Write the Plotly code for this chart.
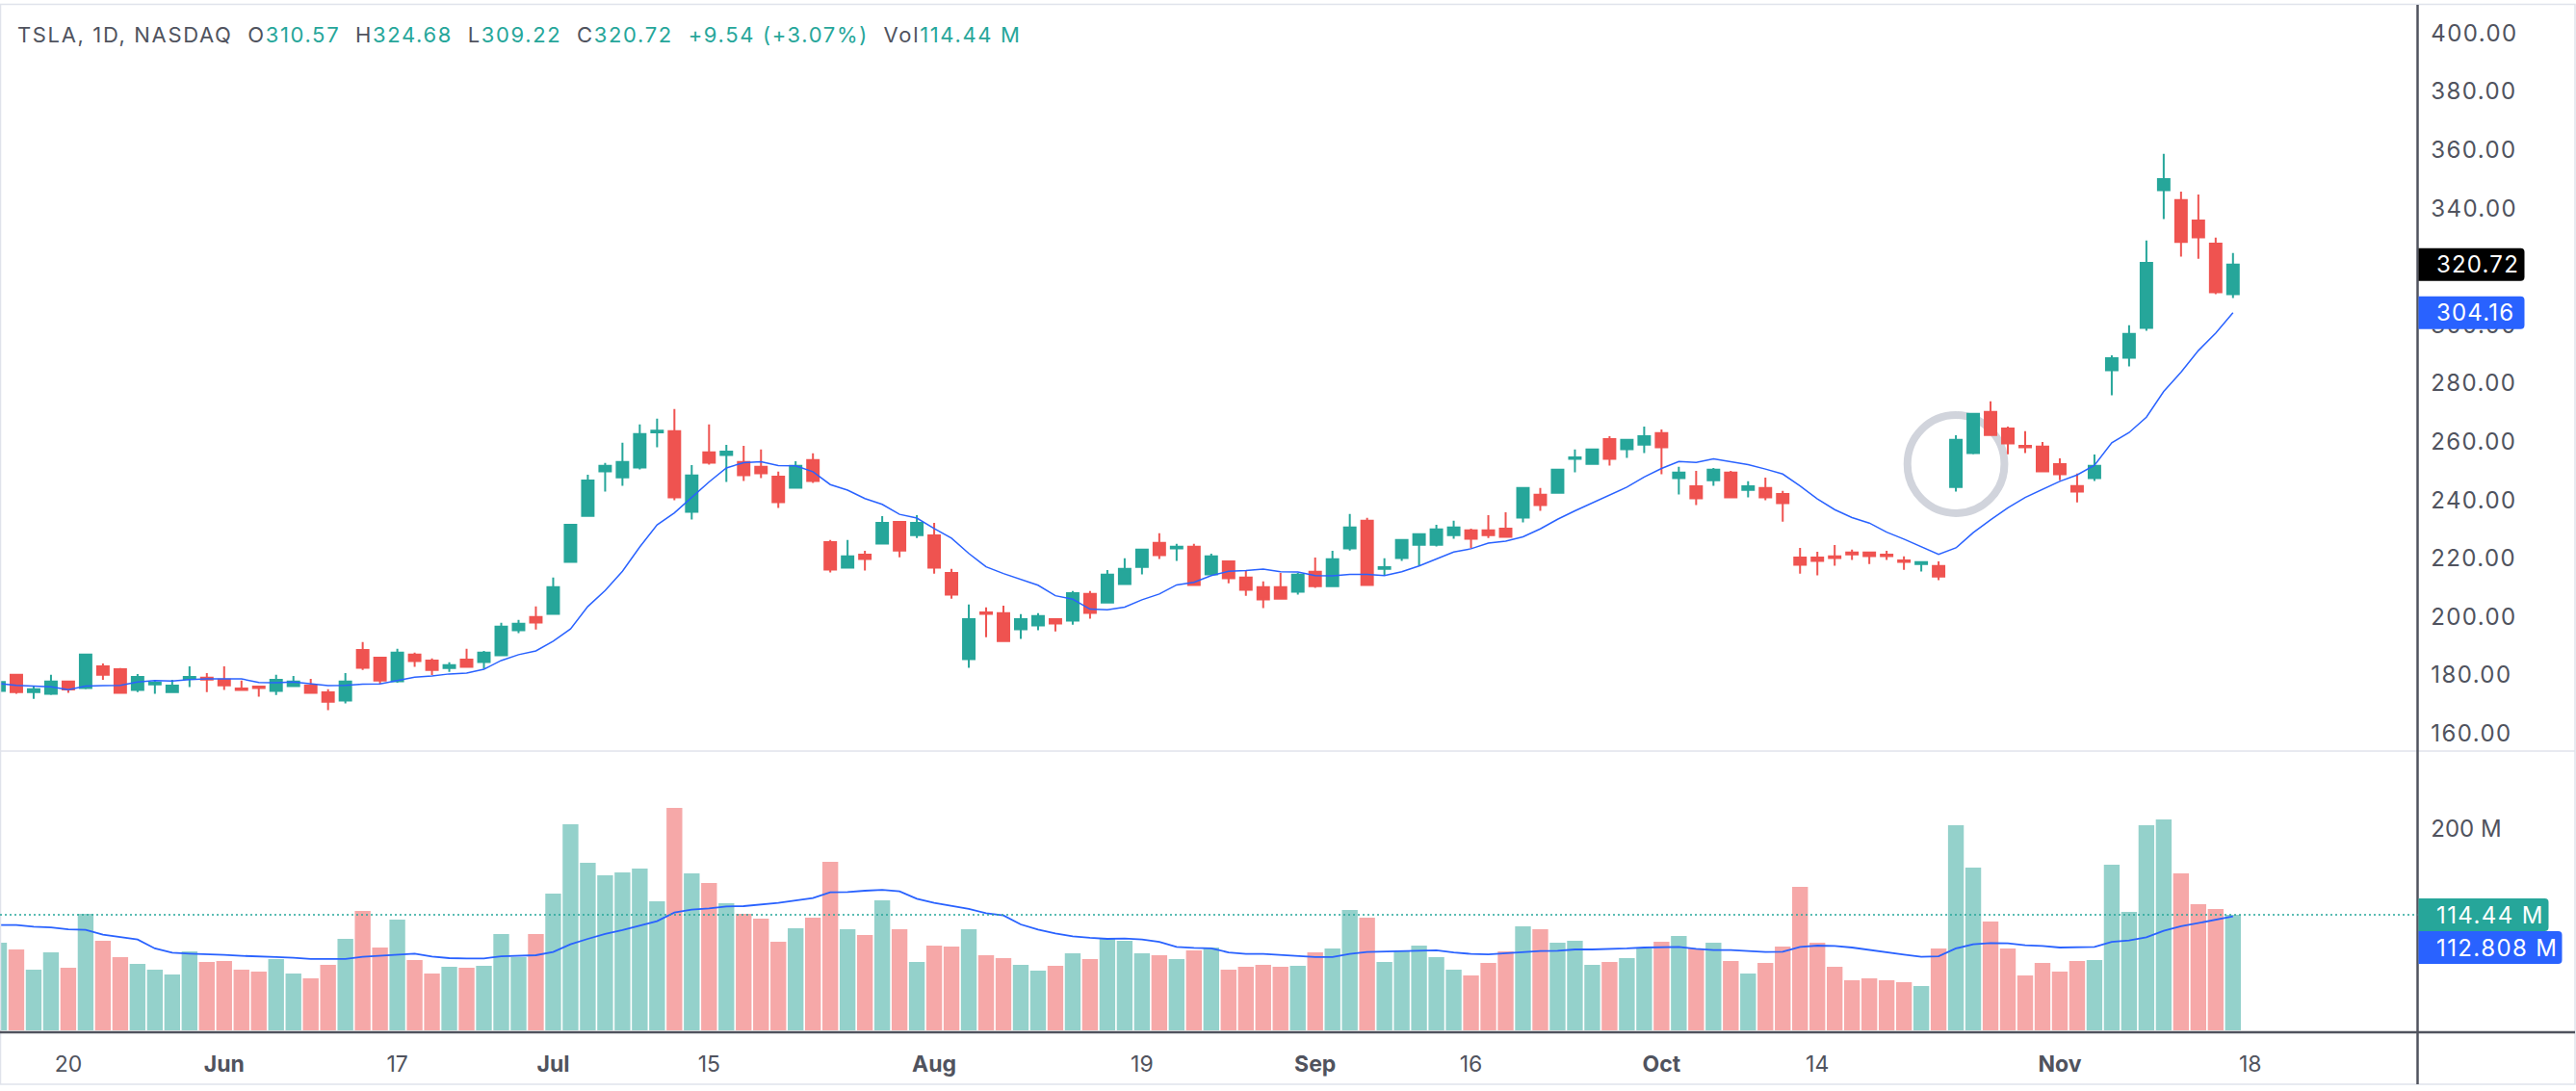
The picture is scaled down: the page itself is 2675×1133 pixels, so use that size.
import plotly.graph_objects as go

W, H = 2675, 1133

# OHLC, session by session (14 May to 15 Nov 2024, trading days only)
opens = [174.6,180.1,174.2,173.6,177.8,175.6,183.0,182.0,174.9,176.8,
         174.2,178.7,179.1,178.5,175.4,176.1,174.6,176.2,176.4,174.1,
         171.3,188.6,186.0,177.9,187.0,185.0,182.4,185.3,184.5,186.8,
         195.4,199.9,201.0,218.8,234.6,249.8,247.8,251.1,263.2,263.6,
         236.0,256.3,255.4,253.0,251.4,248.0,244.2,253.7,225.6,216.8,
         221.3,225.1,232.5,228.0,227.9,215.0,185.5,201.5,201.2,195.7,
         197.0,199.2,198.7,207.8,204.9,211.2,217.1,225.3,223.4,224.0,
         214.5,219.0,213.4,210.1,210.1,208.6,215.4,210.5,223.4,232.9,
         216.4,220.1,224.7,224.7,228.0,229.6,229.6,230.2,234.0,241.8,
         242.5,254.1,252.4,260.9,257.4,259.0,262.9,247.5,244.7,246.8,
         249.4,243.5,244.1,242.1,220.3,220.3,220.7,222.0,222.0,221.3,
         219.3,218.1,217.4,244.5,256.1,270.2,264.5,258.6,258.3,252.3,
         244.8,247.5,284.5,288.8,299.0,346.2,342.8,335.8,327.9,310.57]
highs = [177.6,180.4,176.2,180.1,178.1,187.3,184.0,182.4,180.4,178.4,
         178.4,183.0,180.7,183.0,178.1,176.4,180.1,179.7,178.7,175.2,
         180.7,191.3,186.3,189.0,187.7,185.7,184.4,189.0,188.3,197.9,
         198.9,203.5,213.4,231.5,248.7,252.7,259.6,265.9,267.9,271.2,
         252.0,265.9,258.9,258.6,257.3,249.7,253.3,256.0,226.3,226.3,
         222.6,234.5,232.5,234.8,232.2,216.4,204.2,203.2,203.8,200.9,
         201.2,199.5,208.8,208.8,216.0,220.0,223.3,228.6,225.0,225.0,
         221.6,219.3,216.0,212.1,215.0,215.0,220.3,222.6,235.2,233.9,
         220.0,226.6,228.6,231.5,232.9,230.2,234.8,235.8,244.4,244.1,
         250.4,257.3,257.3,261.9,260.9,265.2,264.2,251.4,250.0,251.0,
         250.0,246.4,247.7,243.1,223.6,222.3,224.6,223.0,222.3,222.6,
         220.7,218.7,219.0,262.2,269.8,273.8,265.2,263.6,259.9,254.3,
         249.1,255.6,289.6,299.9,328.9,358.6,345.7,344.7,329.9,324.68]
lows = [174.6,173.6,171.9,173.2,173.9,175.2,178.4,173.6,174.2,173.6,
        174.2,175.9,174.2,174.9,174.6,172.6,173.2,175.9,173.6,168.0,
        170.3,181.8,177.1,177.4,182.8,180.0,181.1,182.8,182.2,186.8,
        194.4,195.6,201.0,218.5,234.6,242.9,244.9,250.5,258.1,239.9,
        233.3,252.1,246.2,246.5,247.5,237.3,244.2,245.9,215.2,216.5,
        215.8,225.1,220.4,227.0,214.8,206.2,182.5,193.0,191.7,192.4,
        195.4,195.0,197.3,199.3,204.9,211.2,214.5,219.8,219.1,210.9,
        214.5,211.5,207.2,203.0,206.2,207.6,209.9,210.5,222.7,210.9,
        214.1,219.1,217.5,224.1,226.7,223.4,227.0,227.4,232.3,236.3,
        242.2,249.5,252.4,251.8,254.4,256.1,248.8,241.9,238.3,244.9,
        240.9,240.9,239.9,232.6,214.8,214.2,217.5,219.5,218.1,219.5,
        216.1,215.5,212.5,242.9,255.7,262.3,255.7,256.1,249.5,246.8,
        239.2,246.5,275.9,285.8,298.0,336.3,323.4,322.7,310.5,309.22]
closes = [177.6,174.2,175.2,177.8,175.1,187.0,180.1,173.9,179.4,177.4,
          176.4,179.4,178.5,176.5,174.9,175.6,178.4,177.8,173.9,170.9,
          177.8,182.5,178.1,187.7,184.8,181.8,183.4,182.8,187.7,196.6,
          197.6,198.0,210.1,231.5,246.7,251.7,253.0,262.6,263.8,240.9,
          248.4,252.8,256.6,248.5,249.2,239.3,251.7,246.5,216.2,220.7,
          219.8,232.2,222.7,232.2,216.8,207.6,199.2,201.0,191.7,199.2,
          200.2,197.7,208.1,201.3,214.4,216.4,223.0,221.1,224.0,210.9,
          220.7,213.2,209.2,205.9,206.2,214.4,210.5,219.7,230.6,210.9,
          217.0,226.3,228.3,229.9,230.6,226.7,228.0,227.4,244.1,238.3,
          250.4,254.6,257.3,254.1,260.6,261.9,258.1,249.4,240.6,250.4,
          240.9,244.7,240.9,238.9,217.8,219.1,220.1,221.4,220.8,220.8,
          218.8,218.7,213.8,260.6,269.5,262.3,259.4,258.1,249.8,248.8,
          242.9,251.7,288.6,296.9,321.3,350.0,328.4,330.0,311.2,320.72]
price_ma = [177.1,176.5,176.2,176.0,175.0,176.2,176.4,176.5,177.6,178.1,
            178.0,178.5,178.7,178.7,178.7,177.5,177.4,177.6,177.1,176.4,
            176.5,176.9,177.0,178.2,179.3,179.7,180.4,180.7,182.0,185.0,
            187.0,188.3,191.6,195.8,203.5,209.0,215.6,223.9,231.5,235.6,
            240.9,246.2,251.0,252.8,253.1,251.8,251.7,249.7,245.3,243.4,
            240.5,238.5,235.1,233.8,230.2,226.9,221.7,217.1,214.8,212.7,
            210.8,207.2,206.0,202.6,202.4,203.3,205.8,207.8,210.9,211.8,
            214.1,215.6,215.8,216.3,215.4,215.3,214.1,214.0,214.5,214.5,
            214.1,215.4,217.4,219.8,222.2,223.3,225.2,225.9,227.4,230.1,
            233.4,236.3,239.0,241.6,244.4,247.9,250.8,253.2,252.9,254.1,
            253.0,252.1,250.6,248.9,244.8,240.4,236.7,234.0,232.1,229.0,
            226.6,223.9,221.4,223.6,228.8,233.2,237.3,240.9,243.6,246.4,
            248.6,251.9,259.6,263.1,268.4,277.2,283.8,291.2,297.2,304.16]
volumes = [86.8,80.1,60.1,77.2,62.0,115.4,88.7,72.5,65.8,60.1,
           55.3,78.2,67.7,68.7,60.1,58.2,70.6,56.3,51.5,64.8,
           90.6,118.2,82.0,109.7,69.6,56.3,62.9,62.0,63.9,95.4,
           72.5,95.4,135.4,204.1,165.9,153.5,156.4,160.2,127.8,220.3,
           155.4,145.9,125.9,115.4,110.6,87.7,101.1,111.6,166.9,100.1,
           94.4,128.7,100.1,67.7,83.9,83.0,100.1,74.4,71.5,64.8,
           59.1,63.9,76.3,70.6,90.6,88.7,76.3,74.4,70.6,79.1,
           82.0,60.1,62.9,64.8,62.9,63.9,77.2,81.1,119.2,111.6,
           67.7,78.2,83.9,72.5,60.1,54.4,66.8,78.2,103.0,100.1,
           86.8,88.7,64.8,67.7,71.5,81.1,87.7,93.5,81.1,86.8,
           68.7,56.3,66.8,83.0,142.1,86.8,62.9,49.6,51.5,49.6,
           47.7,43.9,81.1,203.1,161.2,107.8,81.1,54.4,66.8,58.2,
           68.7,69.6,164.0,117.3,203.1,208.8,155.4,124.9,120.2,114.44]
volume_ma = [104.3,104.3,102.7,102.0,100.1,99.5,94.7,92.2,90.0,81.1,
             76.9,76.0,75.0,74.7,73.8,72.8,72.5,71.8,70.6,70.6,
             70.6,72.8,73.8,75.3,76.0,73.1,71.5,71.2,71.2,73.4,
             74.1,74.4,77.6,85.2,90.6,95.4,99.2,104.0,108.1,116.7,
             119.5,120.8,122.7,123.0,124.6,126.2,128.7,131.0,136.7,137.0,
             138.3,139.2,137.6,130.3,126.2,123.0,120.2,116.0,113.8,104.9,
             99.8,96.0,93.1,91.6,90.6,90.9,90.0,87.7,82.7,81.7,
             81.1,77.2,75.7,75.7,74.7,73.8,72.5,72.5,75.7,77.6,
             77.9,78.8,79.2,79.2,77.2,75.7,75.3,76.3,77.9,78.5,
             78.8,80.1,80.1,80.4,81.1,82.0,82.3,82.7,80.7,79.5,
             79.5,78.5,77.6,77.9,82.7,83.9,83.6,82.0,79.5,77.2,
             75.0,72.8,73.4,81.1,85.2,86.5,86.1,84.2,83.6,82.0,
             82.0,82.7,87.7,89.0,92.2,98.5,103.0,106.5,109.7,112.808]

sessions = list(range(len(closes)))
date_tick_sessions = [4, 13, 23, 32, 41, 54, 66, 76, 85, 96, 105, 119, 130]
date_tick_labels = ["20", "<b>Jun</b>", "17", "<b>Jul</b>", "15", "<b>Aug</b>", "19",
                    "<b>Sep</b>", "16", "<b>Oct</b>", "14", "<b>Nov</b>", "18"]
# 320.00 is hidden behind the last-price label in the reference
price_ticks = [160, 180, 200, 220, 240, 260, 280, 300, 340, 360, 380, 400]
volume_ticks = [200]
volume_tick_labels = ["200 M"]

UP, DOWN = "#26a69a", "#ef5350"
UP_SOFT, DOWN_SOFT = "#94d1cb", "#f6a8a8"
BLUE, INK, RULE = "#2962ff", "#50535e", "#e0e3eb"
FONT = "Inter"
AXIS_RIGHT = 2510.5

fig = go.Figure()
fig.add_trace(go.Candlestick(
    x=sessions, open=opens, high=highs, low=lows, close=closes, xaxis="x", yaxis="y",
    increasing=dict(line=dict(color=UP, width=2), fillcolor=UP),
    decreasing=dict(line=dict(color=DOWN, width=2), fillcolor=DOWN),
    whiskerwidth=0, showlegend=False))
fig.add_trace(go.Scatter(x=sessions, y=price_ma, mode="lines", xaxis="x", yaxis="y",
                         line=dict(color=BLUE, width=1.5), showlegend=False))
fig.add_trace(go.Bar(x=sessions, y=volumes, xaxis="x", yaxis="y2",
                     marker=dict(color=[UP_SOFT if c >= o else DOWN_SOFT for o, c in zip(opens, closes)],
                                 line_width=0),
                     showlegend=False))
fig.add_trace(go.Scatter(x=sessions, y=volume_ma, mode="lines", xaxis="x", yaxis="y2",
                         line=dict(color=BLUE, width=1.8), showlegend=False))


def py(px):
    return 1 - px / H


def pill(yval, yref, width, color):
    return dict(type="path", xref="paper", yref=yref, xsizemode="pixel", ysizemode="pixel",
                xanchor=AXIS_RIGHT / W, yanchor=yval,
                path=f"M 1 -17 L {width-4} -17 Q {width} -17 {width} -13 L {width} 13 "
                     f"Q {width} 17 {width-4} 17 L 1 17 Z",
                fillcolor=color, line_width=0, layer="above")


def pill_text(text, yval, yref):
    return dict(text=text, xref="paper", x=2528 / W, xanchor="left", align="left",
                yref=yref, y=yval, yanchor="middle",
                showarrow=False, font=dict(family=FONT, size=24, color="white"))


val = lambda s: f'<span style="color:{UP}">{s}</span>'
gap = "\u00a0\u00a0"
header = ("TSLA, 1D, NASDAQ" + gap + "O" + val("310.57") + gap + "H" + val("324.68") + gap + "L" + val("309.22") +
          gap + "C" + val("320.72") + gap + val("+9.54 (+3.07%)") + gap + "Vol" + val("114.44 M"))

fig.update_layout(
    width=W, height=H, autosize=False, margin=dict(l=0, r=0, t=0, b=0),
    paper_bgcolor="white", plot_bgcolor="white", bargap=0.09, boxgap=0.05,
    font=dict(family=FONT, color=INK, size=24),
    xaxis=dict(domain=[0, AXIS_RIGHT / W], range=[0.056, 139.66], anchor="y2",
               rangeslider=dict(visible=False), showgrid=False, zeroline=False,
               tickmode="array", tickvals=date_tick_sessions, ticktext=date_tick_labels,
               ticks="outside", ticklen=14, tickcolor="rgba(0,0,0,0)", tickfont=dict(size=23, color=INK)),
    yaxis=dict(domain=[py(780), py(5)], range=[153.96, 409.7], side="right", anchor="x",
               showgrid=False, zeroline=False, tickmode="array", tickvals=price_ticks, tickformat=".2f",
               ticks="outside", ticklen=8, tickcolor="rgba(0,0,0,0)", tickfont=dict(size=24, color=INK)),
    yaxis2=dict(domain=[py(1070), py(781)], range=[0, 275.6], side="right", anchor="x",
                showgrid=False, zeroline=False, tickmode="array", tickvals=volume_ticks,
                ticktext=volume_tick_labels, ticks="outside", ticklen=8, tickcolor="rgba(0,0,0,0)",
                tickfont=dict(size=24, color=INK)),
    shapes=[
        # highlight ring around the breakout candle
        dict(type="circle", xref="x", yref="y", x0=110.2, x1=115.8, y0=235.5, y1=269.1,
             line=dict(color="#d1d4dc", width=8), layer="below"),
        # frame and pane rules
        dict(type="rect", xref="paper", yref="paper", x0=0.5 / W, x1=1 - 1 / W, y0=py(1126), y1=py(4.5),
             line=dict(color=RULE, width=1.5), layer="above"),
        dict(type="line", xref="paper", yref="paper", x0=0, x1=1 - 1 / W, y0=py(780), y1=py(780),
             line=dict(color=RULE, width=1.5), layer="above"),
        dict(type="line", xref="paper", yref="paper", x0=0, x1=1 - 1 / W, y0=py(1072), y1=py(1072),
             line=dict(color=INK, width=2.5), layer="above"),
        dict(type="line", xref="paper", yref="paper", x0=AXIS_RIGHT / W, x1=AXIS_RIGHT / W, y0=py(1126), y1=py(5),
             line=dict(color=INK, width=2.5), layer="above"),
        # last-volume guide
        dict(type="line", xref="paper", yref="y2", x0=0, x1=AXIS_RIGHT / W, y0=volumes[-1], y1=volumes[-1],
             line=dict(color=UP, width=1.5, dash="2px,3px"), layer="above"),
        pill(closes[-1], "y", 111, "#000000"),
        pill(price_ma[-1], "y", 111, BLUE),
        pill(volumes[-1], "y2", 136, UP),
        pill(82.0, "y2", 150, BLUE),
    ],
    annotations=[
        dict(text=header, xref="paper", yref="paper", x=16 / W, y=py(36), xanchor="left", align="left",
             yanchor="middle", showarrow=False, font=dict(family=FONT, size=22, color=INK)),
        pill_text(f"{closes[-1]:.2f}", closes[-1], "y"),
        pill_text(f"{price_ma[-1]:.2f}", price_ma[-1], "y"),
        pill_text(f"{volumes[-1]:.2f} M", volumes[-1], "y2"),
        pill_text(f"{volume_ma[-1]:.3f} M", 82.0, "y2"),
    ],
)

tracking = """
document.body.style.margin='0';document.body.style.overflow='hidden';
document.querySelectorAll('.annotation-text').forEach(function(t){
  if(t.textContent.indexOf('TSLA')===0){t.style.letterSpacing='1.65px';}
  else if(/ M$/.test(t.textContent)){t.style.letterSpacing='1.4px';}
  else{t.style.letterSpacing='1.2px';}
});
document.querySelectorAll('.ytick text').forEach(function(t){t.style.letterSpacing='1.4px';});
"""
fig.write_html("out.html", config=dict(displayModeBar=False), post_script=tracking)
